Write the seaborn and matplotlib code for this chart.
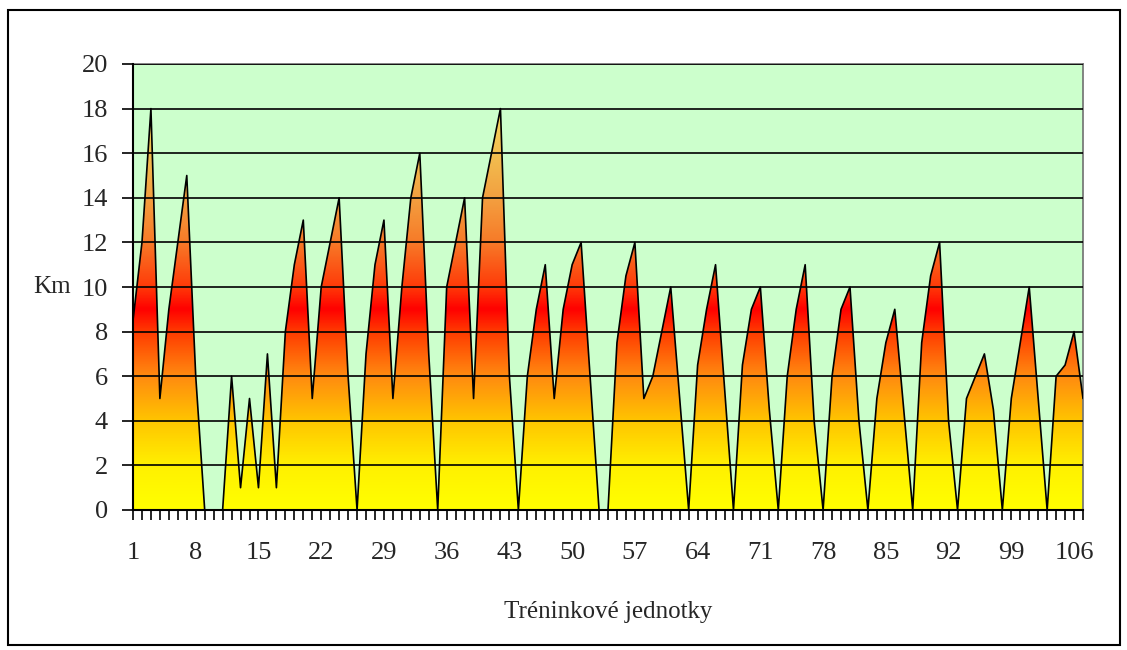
import numpy as np
import pandas as pd
import matplotlib
matplotlib.use("Agg")
import matplotlib.pyplot as plt
import seaborn as sns
from matplotlib.colors import LinearSegmentedColormap
from matplotlib.patches import Rectangle

# ---- data ----
units = list(range(1, 108))
km = [8.5, 12, 18, 5, 9, 12, 15, 6, 0, 0,
      0, 6, 1, 5, 1, 7, 1, 8, 11, 13,
      5, 10, 12, 14, 6, 0, 7, 11, 13, 5,
      10, 14, 16, 7, 0, 10, 12, 14, 5, 14,
      16, 18, 6, 0, 6, 9, 11, 5, 9, 11,
      12, 6, 0, 0, 7.5, 10.5, 12, 5, 6, 8,
      10, 5, 0, 6.5, 9, 11, 5.5, 0, 6.5, 9,
      10, 4.5, 0, 6, 9, 11, 4, 0, 6, 9,
      10, 4, 0, 5, 7.5, 9, 4.5, 0, 7.5, 10.5,
      12, 4, 0, 5, 6, 7, 4.5, 0, 5, 7.5,
      10, 5, 0, 6, 6.5, 8, 5]
label_every = 7
y_ticks = list(range(0, 21, 2))
x_title = "Tréninkové jednotky"
y_title = "Km"

df = pd.DataFrame({"unit": units, "km": km})

sns.set_style("white")
plt.rcParams['font.family'] = ['Liberation Serif', 'DejaVu Serif']

W, H = 1127, 650
fig = plt.figure(figsize=(W / 100, H / 100), dpi=100)
ax = fig.add_axes([133 / W, 1 - 510 / H, 950 / W, 446 / H])
ax.set_facecolor('#ccffcc')

# gradient fill clipped to the area
cmap = LinearSegmentedColormap.from_list(
    'fire',
    [(0.0, '#ffff00'), (2 / 18, '#fff000'), (4 / 18, '#ffc400'),
     (6 / 18, '#ff8a10'), (8 / 18, '#ff3a00'), (9 / 18, '#ff0000'),
     (10 / 18, '#ff3a08'), (12 / 18, '#f77a28'), (14 / 18, '#f3a040'),
     (16 / 18, '#f2bf50'), (1.0, '#f5d860')])
ymax = max(km)
grad = np.linspace(0, 1, 512).reshape(-1, 1)
im = ax.imshow(grad, cmap=cmap, aspect='auto', origin='lower',
               extent=[units[0], units[-1], 0, ymax], zorder=2,
               interpolation='bilinear')
poly = ax.fill_between(df["unit"], df["km"], 0, facecolor='none',
                       edgecolor='none', zorder=2)
im.set_clip_path(poly.get_paths()[0], transform=ax.transData)

sns.lineplot(data=df, x="unit", y="km", ax=ax, color='black',
             linewidth=1.2, zorder=4)

ax.set_xlim(units[0], units[-1])
ax.set_ylim(0, 20)

# grid
ax.set_yticks(y_ticks)
ax.yaxis.grid(True, color='black', linewidth=1.2, zorder=1)
ax.set_axisbelow(False)
for gl in ax.get_ygridlines():
    gl.set_zorder(1.5)
ax.xaxis.grid(False)

ax.set_xticks(units)
ax.set_xticklabels([str(u) if (u - units[0]) % label_every == 0 else ''
                    for u in units])
ax.tick_params(axis='x', direction='out', length=7, width=1.2,
               color='black', labelsize=19, pad=16, bottom=True)
ax.tick_params(axis='y', direction='out', length=8, width=1.2,
               color='black', labelsize=19, pad=10, left=True)

for s in ['left', 'bottom']:
    ax.spines[s].set_color('black')
    ax.spines[s].set_linewidth(1.5)
    ax.spines[s].set_zorder(5)
for s in ['top', 'right']:
    ax.spines[s].set_color('#707070')
    ax.spines[s].set_linewidth(1.2)

ax.set_xlabel(x_title, fontsize=18, labelpad=27)
ax.set_ylabel(y_title, fontsize=18, rotation=0, va='center', ha='center')
ax.yaxis.set_label_coords(-0.085, 0.5)

# outer chart border
fig.patches.append(Rectangle((8 / W, 5 / H), 1112 / W, 635 / H,
                             transform=fig.transFigure, fill=False,
                             edgecolor='black', linewidth=1.5))

fig.savefig('out.png', dpi=100, facecolor='white')
